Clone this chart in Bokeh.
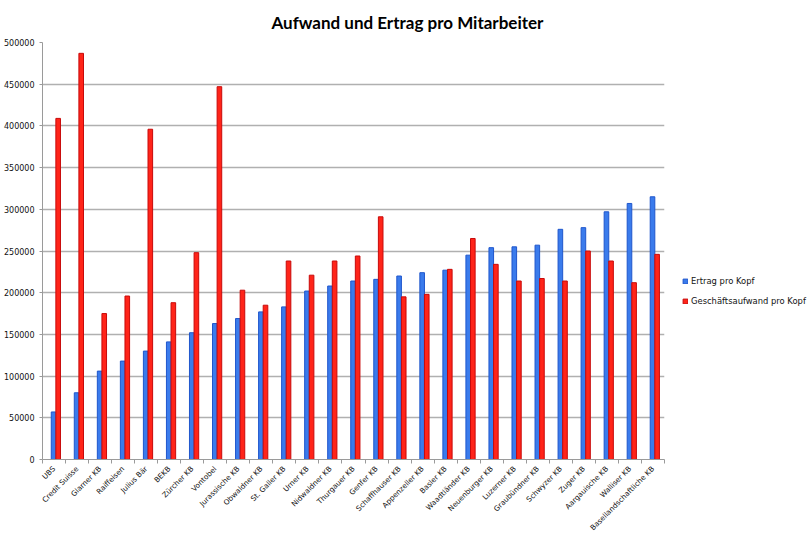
import math
from bokeh.plotting import figure
from bokeh.models import (ColumnDataSource, FixedTicker, Range1d,
                          Legend, LegendItem, NumeralTickFormatter)
from bokeh.embed import file_html
from bokeh.resources import INLINE

# ---- data ----
banks = ["UBS", "Credit Suisse", "Glarner KB", "Raiffeisen", "Julius Bär", "BEKB",
         "Zürcher KB", "Vontobel", "Jurassische KB", "Obwaldner KB", "St. Galler KB",
         "Urner KB", "Nidwaldner KB", "Thurgauer KB", "Genfer KB", "Schaffhauser KB",
         "Appenzeller KB", "Basler KB", "Waadtländer KB", "Neuenburger KB", "Luzerner KB",
         "Graubündner KB", "Schwyzer KB", "Zuger KB", "Aargauische KB", "Walliser KB",
         "Basellandschaftliche KB"]
ertrag = [57000, 80000, 106000, 118000, 130000, 141000, 152000, 163000, 169000, 177000,
          183000, 202000, 208000, 214000, 216000, 220000, 224000, 227000, 245000, 254000,
          255000, 257000, 276000, 278000, 297000, 307000, 315000]
aufwand = [409000, 487000, 175000, 196000, 396000, 188000, 248000, 447000, 203000, 185000,
           238000, 221000, 238000, 244000, 291000, 195000, 198000, 228000, 265000, 234000,
           214000, 217000, 214000, 250000, 238000, 212000, 246000]
y_ticks = [0, 50000, 100000, 150000, 200000, 250000, 300000, 350000, 400000, 450000, 500000]
series_names = ["Ertrag pro Kopf", "Geschäftsaufwand pro Kopf"]
title_text = "Aufwand und Ertrag pro Mitarbeiter"

n = len(banks)
centers = [i + 0.5 for i in range(n)]
bounds = list(range(n + 1))
src = ColumnDataSource(dict(
    xb=[c - 0.02 for c in centers],
    xr=[c + 0.18 for c in centers],
    ertrag=ertrag, aufwand=aufwand))

p = figure(frame_width=622, frame_height=417, output_backend="svg", toolbar_location=None,
           x_range=Range1d(0, n), y_range=Range1d(0, 500000),
           min_border_left=35, min_border_right=0, min_border_top=34,
           min_border_bottom=0)
p.outline_line_color = None
p.background_fill_color = "white"

p.title.text = title_text
p.title.text_font = "Lato"
p.title.text_font_size = "17px"
p.title.text_font_style = "bold"
p.title.align = "left"
p.title.offset = 229
p.title.standoff = 19
p.title.text_color = "black"

rb = p.vbar(x="xb", top="ertrag", width=0.2, source=src,
            fill_color="#3a7bec", line_color="#1f56cc", line_width=1)
rr = p.vbar(x="xr", top="aufwand", width=0.2, source=src,
            fill_color="#ff2419", line_color="#c80a0a", line_width=1)

# y axis
ya = p.yaxis[0]
ya.ticker = FixedTicker(ticks=y_ticks)
ya.formatter = NumeralTickFormatter(format="0")
ya.major_label_text_font = "DejaVu Sans"
ya.major_label_text_font_size = "8px"
ya.major_label_text_color = "#111111"
ya.major_label_standoff = 5
ya.major_tick_out = 3
ya.major_tick_in = 0
ya.minor_tick_line_color = None
ya.axis_line_color = "#9a9a9a"
ya.major_tick_line_color = "#9a9a9a"

p.ygrid.grid_line_color = "#b0b0b0"
p.ygrid.grid_line_width = 1.6
p.ygrid.ticker = FixedTicker(ticks=y_ticks)
p.xgrid.grid_line_color = None

# x axis: labels at category centres, small ticks at category boundaries
xa = p.xaxis[0]
xa.ticker = FixedTicker(ticks=centers, minor_ticks=bounds)
xa.major_label_overrides = {c: b for c, b in zip(centers, banks)}
xa.major_tick_line_color = None
xa.major_tick_out = 0
xa.major_tick_in = 0
xa.minor_tick_out = 4
xa.minor_tick_in = 0
xa.minor_tick_line_color = "#9a9a9a"
xa.axis_line_color = "#9a9a9a"
xa.major_label_orientation = math.pi / 4
xa.major_label_text_font = "DejaVu Sans"
xa.major_label_text_font_size = "7.3px"
xa.major_label_text_color = "#111111"
xa.major_label_standoff = 4

legend = Legend(items=[LegendItem(label=series_names[0], renderers=[rb]),
                       LegendItem(label=series_names[1], renderers=[rr])],
                location=(18, 148), orientation="vertical")
legend.border_line_color = None
legend.background_fill_alpha = 0
legend.padding = 0
legend.margin = 0
legend.spacing = 0
legend.glyph_width = 6
legend.glyph_height = 6
legend.label_standoff = 3
legend.label_height = 20
legend.label_text_font = "DejaVu Sans"
legend.label_text_font_size = "8.4px"
legend.label_text_color = "#111111"
p.add_layout(legend, "right")

open("out.html", "w").write(file_html(p, INLINE))
